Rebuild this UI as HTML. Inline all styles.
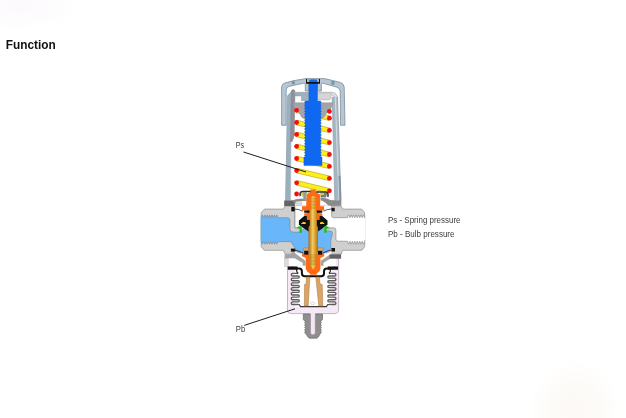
<!DOCTYPE html>
<html><head><meta charset="utf-8">
<style>
html,body{margin:0;padding:0;background:#fff;}
body{width:626px;height:418px;overflow:hidden;position:relative;font-family:"Liberation Sans",sans-serif;}
svg{position:absolute;left:0;top:0;}
</style></head><body>
<svg width="626" height="418" viewBox="0 0 626 418" style="will-change:transform">
<defs><radialGradient id="gw"><stop offset="0" stop-color="#fcf9f5"/><stop offset="0.5" stop-color="#fdfbf8"/><stop offset="1" stop-color="#ffffff"/></radialGradient><radialGradient id="gp"><stop offset="0" stop-color="#fcf9fc"/><stop offset="1" stop-color="#ffffff"/></radialGradient></defs>
<ellipse cx="575" cy="408" rx="46" ry="48" fill="url(#gw)"/>
<ellipse cx="18" cy="6" rx="62" ry="24" fill="url(#gp)"/>
<text x="5.8" y="48.7" font-family="Liberation Sans, sans-serif" font-weight="bold" font-size="12.5" fill="#111" textLength="50" lengthAdjust="spacingAndGlyphs">Function</text>
<text x="388" y="222.6" font-family="Liberation Sans, sans-serif" font-size="8.6" fill="#3a3a3a" textLength="72.5" lengthAdjust="spacingAndGlyphs">Ps - Spring pressure</text>
<text x="388" y="236.6" font-family="Liberation Sans, sans-serif" font-size="8.6" fill="#3a3a3a" textLength="66.5" lengthAdjust="spacingAndGlyphs">Pb - Bulb pressure</text>
<text x="235.8" y="147.7" font-family="Liberation Sans, sans-serif" font-size="8.6" fill="#3a3a3a" textLength="8.3" lengthAdjust="spacingAndGlyphs">Ps</text>
<text x="235.8" y="332.4" font-family="Liberation Sans, sans-serif" font-size="8.6" fill="#3a3a3a" textLength="9.4" lengthAdjust="spacingAndGlyphs">Pb</text>
<path d="M281.6 125.3 L281.6 87 Q281.8 84 284.5 83 L294 80.6 L306 78.6 L324.8 78.6 L340.5 82.5 Q343.8 83.6 344.2 87 L345 125.3 L340.6 125.3 L340.2 91 Q340 88.6 337 87.2 L323 83.2 Q321.4 83 321.4 84.6 L321.4 91 L317.4 91 L317.4 84 L309 84 L309 91 L305.3 91 L305.3 84.6 Q305.3 83 303.6 83.2 L289 86.4 Q286.2 87.4 286.2 90 L286.2 125.3 Z" fill="#b6c6d2" stroke="#7d8e9a" stroke-width="0.8" stroke-linejoin="round"/>
<rect x="291.8" y="81" width="2.9" height="3.4" fill="#6f9aa6" transform="rotate(-12 293 82.5)"/>
<rect x="331.4" y="81" width="3.1" height="3.6" fill="#6f9aa6" transform="rotate(14 333 82.8)"/>
<path d="M285.6 200.6 L287.7 95.6 L291.3 92.2 L290.7 200.6 Z" fill="#9bb0be" stroke="#b4c3ce" stroke-width="0.5"/>
<path d="M285.6 200.6 L287.7 95.6 L291.3 92.2" stroke="#8495a1" stroke-width="0.6" fill="none"/>
<path d="M290.6 141.6 L291.3 90.8 Q293 88.4 294.9 90.8 L294.2 134 Q293.8 139 291.8 141.8 Z" fill="#8f9098" stroke="#74757d" stroke-width="0.5"/>
<path d="M294.8 92.3 L331 92.3 Q337.3 92.3 337.5 98 L337.5 100 L334.3 100 L334.3 98 Q334 95 331 94.6 L294.8 94.6 Z" fill="#d9dfe4" stroke="#9aa6b0" stroke-width="0.6"/>
<path d="M332.2 97 L337.5 97 L341 200.6 L334.8 200.6 Z" fill="#a3b6c4" stroke="#b4c3ce" stroke-width="0.5"/>
<path d="M335.6 97 L337.5 97 L341 200.6 L339.2 200.6 Z" fill="#b4bcc4"/>
<path d="M338.1 176 L340.1 176 L341 200.6 L338.9 200.6 Z" fill="#8d99a4" stroke="#6f7a84" stroke-width="0.4"/>
<path d="M335.3 97 L338.8 200.6" stroke="#e6ecf0" stroke-width="0.7" fill="none"/>
<path d="M332.2 97 L334.8 200.6" stroke="#8495a1" stroke-width="0.5" fill="none"/>
<path d="M337.5 97 L341 200.6" stroke="#8a8f98" stroke-width="0.5" fill="none"/>
<path d="M295 92.8 L308.9 92.8 L308.9 100.7 L301.5 100.7 L301.5 95.9 L295 95.9 Z" fill="#a0b2be" stroke="#8797a3" stroke-width="0.5"/>
<path d="M317.4 92.8 L331 92.8 L331 98.2 L329.4 99.9 L317.4 99.9 Z" fill="#d5d5d5" stroke="#a8a8a8" stroke-width="0.5"/>
<path d="M296.06 112.54 L328.86 120.44 L329.94 115.96 L297.14 108.06 Z" fill="#ffee1a" stroke="#9a9200" stroke-width="0.5"/>
<path d="M296.07 124.74 L328.87 132.54 L329.93 128.06 L297.13 120.26 Z" fill="#ffee1a" stroke="#9a9200" stroke-width="0.5"/>
<path d="M296.04 136.63 L328.84 144.83 L329.96 140.37 L297.16 132.17 Z" fill="#ffee1a" stroke="#9a9200" stroke-width="0.5"/>
<path d="M296.04 148.53 L328.84 156.73 L329.96 152.27 L297.16 144.07 Z" fill="#ffee1a" stroke="#9a9200" stroke-width="0.5"/>
<path d="M296.07 160.74 L328.87 168.54 L329.93 164.06 L297.13 156.26 Z" fill="#ffee1a" stroke="#9a9200" stroke-width="0.5"/>
<path d="M296.07 172.84 L328.87 180.54 L329.93 176.06 L297.13 168.36 Z" fill="#ffee1a" stroke="#9a9200" stroke-width="0.5"/>
<path d="M296.06 185.03 L328.86 193.03 L329.94 188.57 L297.14 180.57 Z" fill="#ffee1a" stroke="#9a9200" stroke-width="0.5"/>
<path d="M293.2 102.7 L305.4 102.7 L305.4 118.5 L304 118.5 Q301.6 118 301.2 116.5 Q300.6 114 298 112 Q294.6 109.5 293.4 105.6 Z" fill="#a4a4a8" stroke="#8a8a8e" stroke-width="0.4"/>
<path d="M332.6 102.7 L320.4 102.7 L320.4 118.5 L321.8 118.5 Q324.2 118 324.6 116.5 Q325.2 114 327.8 112 Q331.2 109.5 332.4 105.6 Z" fill="#a4a4a8" stroke="#8a8a8e" stroke-width="0.4"/>
<circle cx="296.6" cy="110.3" r="2.4" fill="#f01010"/>
<circle cx="296.6" cy="122.5" r="2.4" fill="#f01010"/>
<circle cx="296.6" cy="134.4" r="2.4" fill="#f01010"/>
<circle cx="296.6" cy="146.3" r="2.4" fill="#f01010"/>
<circle cx="296.6" cy="158.5" r="2.4" fill="#f01010"/>
<circle cx="296.6" cy="170.6" r="2.4" fill="#f01010"/>
<circle cx="296.6" cy="182.8" r="2.4" fill="#f01010"/>
<circle cx="296.6" cy="194.0" r="2.4" fill="#f01010"/>
<circle cx="329.4" cy="111.4" r="2.4" fill="#f01010"/>
<circle cx="329.4" cy="118.2" r="2.4" fill="#f01010"/>
<circle cx="329.4" cy="130.3" r="2.4" fill="#f01010"/>
<circle cx="329.4" cy="142.6" r="2.4" fill="#f01010"/>
<circle cx="329.4" cy="154.5" r="2.4" fill="#f01010"/>
<circle cx="329.4" cy="166.3" r="2.4" fill="#f01010"/>
<circle cx="329.4" cy="178.3" r="2.4" fill="#f01010"/>
<circle cx="329.4" cy="190.8" r="2.4" fill="#f01010"/>
<path d="M308.9 84 Q308.9 80.2 311 80.2 L315.3 80.2 Q317.4 80.2 317.4 84 L317.4 101 L320.4 101 L321.30 102.47 L320.40 103.95 L321.30 105.42 L320.40 106.89 L321.30 108.37 L320.40 109.84 L321.30 111.32 L320.40 112.79 L321.30 114.26 L320.40 115.74 L321.30 117.21 L320.40 118.68 L321.30 120.16 L320.40 121.63 L321.30 123.11 L320.40 124.58 L321.30 126.05 L320.40 127.53 L321.30 129.00 L320.40 130.47 L321.30 131.95 L320.40 133.42 L321.30 134.89 L320.40 136.37 L321.30 137.84 L320.40 139.32 L321.30 140.79 L320.40 142.26 L321.30 143.74 L320.40 145.21 L321.30 146.68 L320.40 148.16 L321.30 149.63 L320.40 151.11 L321.30 152.58 L320.40 154.05 L321.30 155.53 L320.40 157.00 L322 157 L322 165.6 L303.9 165.6 L303.9 157 L305.4 157 L304.50 155.53 L305.40 154.05 L304.50 152.58 L305.40 151.11 L304.50 149.63 L305.40 148.16 L304.50 146.68 L305.40 145.21 L304.50 143.74 L305.40 142.26 L304.50 140.79 L305.40 139.32 L304.50 137.84 L305.40 136.37 L304.50 134.89 L305.40 133.42 L304.50 131.95 L305.40 130.47 L304.50 129.00 L305.40 127.53 L304.50 126.05 L305.40 124.58 L304.50 123.11 L305.40 121.63 L304.50 120.16 L305.40 118.68 L304.50 117.21 L305.40 115.74 L304.50 114.26 L305.40 112.79 L304.50 111.32 L305.40 109.84 L304.50 108.37 L305.40 106.89 L304.50 105.42 L305.40 103.95 L304.50 102.47 L305.40 101.00 L308.9 101 Z" fill="#0e68f2" stroke="#0b55cc" stroke-width="0.4"/>
<path d="M306 79 L320 79 L320 83.8 L306 83.8 Z M307.1 79.3 L307.1 81.9 L318.9 81.9 L318.9 79.3 Z" fill="#111" fill-rule="evenodd"/>
<rect x="307.1" y="79.3" width="11.8" height="2.6" fill="#aebdc8"/>
<path d="M309.2 81.9 L309.2 80.6 Q309.2 79.4 311 79.4 L315.4 79.4 Q317.2 79.4 317.2 80.6 L317.2 81.9 Z" fill="#0e68f2"/>
<path d="M261.2 212.7 L264.4 209.1 L283.2 209.1 L285 206 L341 206 L342.8 209.1 L361.6 209.1 L364.7 212.7 L364.7 246.8 L361.8 250.3 L342.6 250.3 L341.2 254.2 L285.2 254.2 L283.3 250.3 L264.2 250.3 L261.2 246.8 Z" fill="#cfcfcf" stroke="#8e8e8e" stroke-width="0.7" stroke-linejoin="round"/>
<path d="M261.2 217.7 L262.40 214.90 L263.60 217.70 L264.80 214.90 L266.00 217.70 L267.20 214.90 L268.40 217.70 L269.60 214.90 L270.80 217.70 L272.00 214.90 L273.20 217.70 L274.40 214.90 L275.60 217.70 L276.80 214.90 L278.00 217.70 L287.5 217.7 Q290 217.7 290 220.5 L290 229 Q290 232.1 293 232.1 L300 232.1 L309 225 L317 225 L326 230.8 L330 231 Q332.5 231 332.5 233.5 L330.8 240 L330.8 248.6 L326 253 L300 253 L296.5 250.5 L294.3 247 L291 241.7 L278 241.7 L276.80 244.30 L275.60 241.70 L274.40 244.30 L273.20 241.70 L272.00 244.30 L270.80 241.70 L269.60 244.30 L268.40 241.70 L267.20 244.30 L266.00 241.70 L264.80 244.30 L263.60 241.70 L262.40 244.30 L261.20 241.70 Z" fill="#6ab6fb" stroke="#7f7f7f" stroke-width="0.6" stroke-linejoin="round"/>
<path d="M261.3 218.2 L261.3 241.2" stroke="#6ab6fb" stroke-width="0.9"/>
<path d="M294.8 206.5 L331.6 206.5 L331.6 215.5 Q331.6 217.7 334 217.7 L347.4 217.7 L348.64 214.90 L349.87 217.70 L351.11 214.90 L352.34 217.70 L353.58 214.90 L354.81 217.70 L356.05 214.90 L357.29 217.70 L358.52 214.90 L359.76 217.70 L360.99 214.90 L362.23 217.70 L363.46 214.90 L364.70 217.70 L364.7 241.2 L363.46 244.20 L362.23 241.20 L360.99 244.20 L359.76 241.20 L358.52 244.20 L357.29 241.20 L356.05 244.20 L354.81 241.20 L353.58 244.20 L352.34 241.20 L351.11 244.20 L349.87 241.20 L348.64 244.20 L347.40 241.20 L338 241.2 Q335.9 241.2 335.9 239 L335.9 230 Q335.9 227.8 333.5 227.8 L326 227.8 L320 222 L306 222 L299 227.8 L294.8 227.8 Z" fill="#fff" stroke="#7f7f7f" stroke-width="0.6" stroke-linejoin="round"/>
<path d="M364.7 218.2 L364.7 240.3" stroke="#fff" stroke-width="1.6"/>
<path d="M295.4 206.4 L331 206.4" stroke="#fff" stroke-width="1.2"/>
<path d="M294.8 209 L294.8 227.8 L299 227.8" fill="none" stroke="#8e8e8e" stroke-width="0.5"/>
<path d="M310.2 189.5 L315.8 189.5 L315.8 192.3 L320.2 194.5 L320.2 206.3 L324.1 206.3 L324.1 210.6 L319.6 210.6 L319.6 213.3 L322.3 213.3 L322.3 216 L319.6 216 L319.6 219.8 L306.9 219.8 L306.9 216 L304.2 216 L304.2 213.3 L306.9 213.3 L306.9 210.6 L302 210.6 L302 206.3 L306.3 206.3 L306.3 194.5 L310.2 192.3 Z" fill="#ff6a12"/>
<path d="M304.2 210.6 L309.6 210.6 L309.6 212.8 L304.2 212.8 Z M304.2 216 L306.9 216 L306.9 219.8 L310 219.8 L310 231.4 L308.4 231.4 L298.9 224.8 L298.9 220.6 Z" fill="#111"/>
<path d="M322.2 210.6 L316.8 210.6 L316.8 212.8 L322.2 212.8 Z M322.2 216 L319.5 216 L319.5 219.8 L316.4 219.8 L316.4 231.4 L318 231.4 L327.5 224.8 L327.5 220.6 Z" fill="#111"/>
<path d="M301.2 223.6 L303.5 221.8 L305.8 222.4 L305.8 224 L301.2 224 Z" fill="#f5d020"/>
<path d="M324.4 223.6 L322.3 221.8 L320 222.4 L320 224 L324.4 224 Z" fill="#f5d020"/>
<path d="M297.1 228.4 Q297.2 226.2 299.4 226.2 L301.8 226.2 L301.8 232.8 L299.5 232.8 L299.5 228.5 Z" fill="#16c01e"/>
<path d="M329 228.4 Q328.9 226.2 326.7 226.2 L324.3 226.2 L324.3 232.8 L326.6 232.8 L326.6 228.5 Z" fill="#16c01e"/>
<rect x="284.2" y="200.4" width="10.7" height="5.6" fill="#646464"/>
<rect x="330" y="200.4" width="11.3" height="5.4" fill="#8a8a8a"/>
<path d="M291.9 200.5 Q296 198.8 300 198.8 L306.3 198.8 L306.3 200.9 L301 200.9 Q297.5 201.2 294.9 203.4 Z" fill="#8a8a8a"/>
<path d="M336 200.5 L331.5 200.4 Q327 198 324.6 197.9 L320.6 197.9 L320.6 200.4 L321.6 200.4 Q324.5 201.5 328.5 205.6 L336 205.6 Z" fill="#8a8a8a"/>
<rect x="295.9" y="201.6" width="5.4" height="4" fill="#e8e8e8" stroke="#aaa" stroke-width="0.4"/>
<path d="M295.9 203.6 L301.3 203.6" stroke="#999" stroke-width="0.4"/>
<rect x="291.3" y="206.8" width="3.4" height="4.6" fill="#111"/>
<rect x="331.6" y="207.8" width="3.1" height="3.5" fill="#111"/>
<path d="M294.5 209 Q299 209 302.5 211.2" fill="none" stroke="#111" stroke-width="0.7"/>
<path d="M331.8 209 Q327 209 323.6 211.2" fill="none" stroke="#111" stroke-width="0.7"/>
<path d="M300.8 192.2 L306.8 192.2 L306.8 197.6 L303 197.6 Q300.8 196 300.8 192.2 Z" fill="#cfcfcf"/>
<rect x="301.6" y="192.7" width="5.2" height="2.7" fill="#c9d81c"/>
<rect x="303.3" y="192.6" width="3" height="7.8" fill="#9a9a9a"/>
<path d="M320.6 192.8 L327 192.8 Q327 196 325.6 197.4 L320.6 197.4 Z" fill="#7a7a7a"/>
<rect x="320.6" y="192.9" width="3.4" height="2.2" fill="#c9d81c"/>
<path d="M300.2 196.2 Q299.4 191.4 302.4 191.4 L310.6 191.4" fill="none" stroke="#2e2e2e" stroke-width="1.5"/>
<path d="M316 191.9 L325.8 191.9 Q328.6 192.1 327.9 196.8" fill="none" stroke="#2e2e2e" stroke-width="1.5"/>
<path d="M287.5 258.2 L287.5 310 Q287.5 313.6 291 313.6 L335 313.6 Q338.6 313.6 338.6 310 L338.6 258.6 L336 258.6 L336 266 L290 266 L290 258.2 Z" fill="#f6e9f6" stroke="#a9a0aa" stroke-width="0.7"/>
<path d="M294.5 266 L332 266 L332 306.5 L294.5 306.5 Z" fill="#fff"/>
<rect x="284.8" y="258.2" width="3.6" height="8.2" fill="#dcdcdc" stroke="#aaa" stroke-width="0.4"/>
<rect x="288.6" y="258.2" width="48" height="7.8" fill="#fff"/>
<path d="M298.20 273.40 L292.60 273.40 A1.30 1.30 0 0 0 292.60 276.00 L298.20 276.00 A1.07 1.07 0 0 1 298.20 278.15 L292.60 278.15 A1.30 1.30 0 0 0 292.60 280.75 L298.20 280.75 A1.07 1.07 0 0 1 298.20 282.90 L292.60 282.90 A1.30 1.30 0 0 0 292.60 285.50 L298.20 285.50 A1.07 1.07 0 0 1 298.20 287.65 L292.60 287.65 A1.30 1.30 0 0 0 292.60 290.25 L298.20 290.25 A1.07 1.07 0 0 1 298.20 292.40 L292.60 292.40 A1.30 1.30 0 0 0 292.60 295.00 L298.20 295.00 A1.07 1.07 0 0 1 298.20 297.15 L292.60 297.15 A1.30 1.30 0 0 0 292.60 299.75 L298.20 299.75 A1.07 1.07 0 0 1 298.20 301.90 L292.60 301.90 A1.30 1.30 0 0 0 292.60 304.50 L298.20 304.50" fill="none" stroke="#5c5c5c" stroke-width="1.35" stroke-linejoin="round"/>
<path d="M328.90 273.40 L334.60 273.40 A1.30 1.30 0 0 1 334.60 276.00 L328.90 276.00 A1.07 1.07 0 0 0 328.90 278.15 L334.60 278.15 A1.30 1.30 0 0 1 334.60 280.75 L328.90 280.75 A1.07 1.07 0 0 0 328.90 282.90 L334.60 282.90 A1.30 1.30 0 0 1 334.60 285.50 L328.90 285.50 A1.07 1.07 0 0 0 328.90 287.65 L334.60 287.65 A1.30 1.30 0 0 1 334.60 290.25 L328.90 290.25 A1.07 1.07 0 0 0 328.90 292.40 L334.60 292.40 A1.30 1.30 0 0 1 334.60 295.00 L328.90 295.00 A1.07 1.07 0 0 0 328.90 297.15 L334.60 297.15 A1.30 1.30 0 0 1 334.60 299.75 L328.90 299.75 A1.07 1.07 0 0 0 328.90 301.90 L334.60 301.90 A1.30 1.30 0 0 1 334.60 304.50 L328.90 304.50" fill="none" stroke="#5c5c5c" stroke-width="1.35" stroke-linejoin="round"/>
<path d="M298.2 273.4 Q296.6 272.6 296.4 269" fill="none" stroke="#222" stroke-width="1.2"/>
<path d="M328.9 273.4 Q330.4 272.6 330.6 269" fill="none" stroke="#222" stroke-width="1.2"/>
<path d="M298.2 304.5 L299.4 304.8 L300.6 306.7 L326.4 306.7 L327.6 304.8 L328.9 304.5" fill="none" stroke="#3a3a3a" stroke-width="1.2"/>
<ellipse cx="312.6" cy="303.3" rx="2.2" ry="1.2" fill="#fff" stroke="#aaa" stroke-width="0.4"/>
<path d="M287.8 268.1 L297.6 268.1 M327.6 268.1 L338 268.1" fill="none" stroke="#111" stroke-width="3.4"/>
<path d="M296 268.4 L299.2 268.4 Q301.9 268.6 301.9 271.2 L301.9 273.4 Q302 276.2 304.8 276.2 L321.2 276.2 Q324 276.2 324 273.4 L324 271.2 Q324 268.6 326.8 268.4 L329.6 268.4" fill="none" stroke="#111" stroke-width="2"/>
<path d="M306.4 276.9 L309.8 276.9 L308.2 306 L304.4 306 L304.6 284.4 L306.2 283.8 Z" fill="#dba56a" stroke="#a86e30" stroke-width="0.5"/>
<path d="M315.8 276.9 L319.3 276.9 L320 283.8 L322.2 284.6 L322.8 306 L318.8 306 Z" fill="#dba56a" stroke="#a86e30" stroke-width="0.5"/>
<path d="M294.9 251.4 L297.7 253.3 L302 253.3 L302 256.4 L305.6 258.4 L305.6 261 L295 254.6 Z" fill="#fff"/>
<path d="M331.3 251.4 L328.5 253.3 L324.2 253.3 L324.2 256.4 L320.6 258.4 L320.6 261 L331.2 254.6 Z" fill="#fff"/>
<path d="M284.6 254.2 L290.8 254.2 L292.1 252 L294.9 252.4 L295.5 253.6 L304.6 260.2 L305.6 260.8 L305.6 265.8 L302.7 265.8 L302.7 262.7 L294.6 258.2 L284.6 258.2 Z" fill="#a3a3a3"/>
<path d="M330.4 254.3 L321.6 260.2 L320.6 260.8 L320.6 265.8 L323.5 265.8 L323.5 262.7 L329.8 259 L330.4 258.7 Z" fill="#a3a3a3"/>
<rect x="329.5" y="254.3" width="11.6" height="4.4" fill="#646464"/>
<rect x="290.9" y="248.6" width="4.4" height="3" fill="#111"/>
<rect x="331.4" y="248" width="3.6" height="3.5" fill="#111"/>
<path d="M295 250.4 Q299 250.6 303 253" fill="none" stroke="#111" stroke-width="0.7"/>
<path d="M331.2 250.2 Q327 250.6 323 253" fill="none" stroke="#111" stroke-width="0.7"/>
<rect x="303.2" y="247.9" width="6.2" height="2.9" rx="0.8" fill="#dca870" stroke="#a87030" stroke-width="0.5"/>
<rect x="316.9" y="247.9" width="6.4" height="2.9" rx="0.8" fill="#dca870" stroke="#a87030" stroke-width="0.5"/>
<path d="M302 253.2 L324.1 253.2 L324.1 256.2 L320.4 258 L320.4 269 L319.2 271.8 L316.6 273.5 L316.6 274.8 L310 274.8 L310 273.5 L307.4 271.8 L305.8 269 L305.8 258 L302 256.2 Z" fill="#ff6a12"/>
<rect x="304.2" y="250.9" width="4.2" height="3.7" fill="#111"/>
<rect x="318" y="250.9" width="4.2" height="3.7" fill="#111"/>
<path d="M303.3 314 L322.5 314 L322.5 319.6 L320.7 321.4 L321.40 322.60 L320.50 323.80 L321.40 325.00 L320.50 326.20 L321.40 327.40 L320.50 328.60 L321.40 329.80 L320.50 331.00 L321.40 332.20 L320.50 333.40 L320.5 333.4 L318.3 337 L317 338.2 L309.4 338.2 L308 337 L305.5 333.4 L304.60 332.20 L305.50 331.00 L304.60 329.80 L305.50 328.60 L304.60 327.40 L305.50 326.20 L304.60 325.00 L305.50 323.80 L304.60 322.60 L305.50 321.40 L305.1 321.4 L303.3 319.6 Z" fill="#8e8e8e" stroke="#5e5e5e" stroke-width="0.6"/>
<path d="M310.5 313 L315.3 313 L315.3 332.2 Q315.3 334.8 312.9 334.8 Q310.5 334.8 310.5 332.2 Z" fill="#f5e6f5"/>
<path d="M310.5 314 L310.5 332.2 Q310.5 334.8 312.9 334.8 Q315.3 334.8 315.3 332.2 L315.3 314" fill="none" stroke="#777" stroke-width="0.4"/>
<defs><linearGradient id="gold" x1="0" x2="1" y1="0" y2="0"><stop offset="0" stop-color="#a86c0c"/><stop offset="0.42" stop-color="#f3c65c"/><stop offset="0.58" stop-color="#e9b646"/><stop offset="1" stop-color="#a9700e"/></linearGradient></defs>
<path d="M312 196.2 L315 196.2 L316 198 L316 210 L316.7 211 L316.7 225.4 L318 227 L318 252 L316.4 253.5 L316.4 265 L313.8 269.2 L312.8 269.2 L310 265 L310 253.5 L308.5 252 L308.5 227 L309.8 225.4 L309.8 211 L310.9 210 L310.9 198 Z" fill="url(#gold)"/>
<path d="M310.9 198.60 L315.9 198.60" stroke="#9a6408" stroke-width="0.45" opacity="0.7"/>
<path d="M310.9 200.05 L315.9 200.05" stroke="#9a6408" stroke-width="0.45" opacity="0.7"/>
<path d="M310.9 201.50 L315.9 201.50" stroke="#9a6408" stroke-width="0.45" opacity="0.7"/>
<path d="M310.9 202.95 L315.9 202.95" stroke="#9a6408" stroke-width="0.45" opacity="0.7"/>
<path d="M310.9 204.40 L315.9 204.40" stroke="#9a6408" stroke-width="0.45" opacity="0.7"/>
<path d="M310.9 205.85 L315.9 205.85" stroke="#9a6408" stroke-width="0.45" opacity="0.7"/>
<path d="M310.9 207.30 L315.9 207.30" stroke="#9a6408" stroke-width="0.45" opacity="0.7"/>
<path d="M310.9 208.75 L315.9 208.75" stroke="#9a6408" stroke-width="0.45" opacity="0.7"/>
<path d="M310 254.80 L316.2 254.80" stroke="#9a6408" stroke-width="0.45" opacity="0.7"/>
<path d="M310 256.20 L316.2 256.20" stroke="#9a6408" stroke-width="0.45" opacity="0.7"/>
<path d="M310 257.60 L316.2 257.60" stroke="#9a6408" stroke-width="0.45" opacity="0.7"/>
<path d="M310 259.00 L316.2 259.00" stroke="#9a6408" stroke-width="0.45" opacity="0.7"/>
<path d="M310 260.40 L316.2 260.40" stroke="#9a6408" stroke-width="0.45" opacity="0.7"/>
<path d="M310 261.80 L316.2 261.80" stroke="#9a6408" stroke-width="0.45" opacity="0.7"/>
<path d="M310 263.20 L316.2 263.20" stroke="#9a6408" stroke-width="0.45" opacity="0.7"/>
<path d="M310 264.60 L316.2 264.60" stroke="#9a6408" stroke-width="0.45" opacity="0.7"/>
<path d="M243.5 152 L306 172" stroke="#111" stroke-width="0.95"/>
<path d="M244.2 325.4 L295 308.8" stroke="#111" stroke-width="0.95"/>
</svg>
</body></html>
